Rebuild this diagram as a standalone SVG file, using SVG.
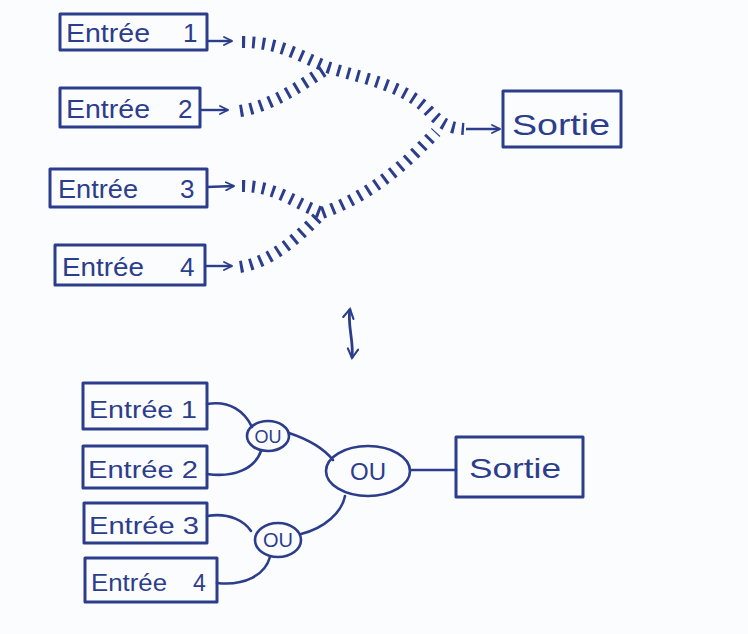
<svg xmlns="http://www.w3.org/2000/svg" width="748" height="634" viewBox="0 0 748 634">
<defs>
<marker id="ah" viewBox="0 0 10 10" refX="9" refY="5" markerWidth="10" markerHeight="10" markerUnits="userSpaceOnUse" orient="auto-start-reverse">
<path d="M1 1 L9 5 L1 9" fill="none" stroke="#2c3d8c" stroke-width="1.8" stroke-linecap="round"/>
</marker>
<marker id="ah2" viewBox="0 0 10 10" refX="8" refY="5" markerWidth="13" markerHeight="13" markerUnits="userSpaceOnUse" orient="auto-start-reverse">
<path d="M1 1 L8 5 L1 9" fill="none" stroke="#2c3d8c" stroke-width="1.6" stroke-linecap="round"/>
</marker>
</defs>
<style>
.box{fill:none;stroke:#2c3d8c;stroke-width:3;stroke-linejoin:round}
.t{font-family:"Liberation Sans","DejaVu Sans",sans-serif;fill:#2c3d8c}
.big{font-size:26px}
.sm{font-size:23px}
.hatch{fill:none;stroke:#2c3d8c;stroke-width:12;stroke-dasharray:3 7}
.arr{fill:none;stroke:#2c3d8c;stroke-width:2.4;marker-end:url(#ah)}
.wire{fill:none;stroke:#2c3d8c;stroke-width:2.6;stroke-linecap:round}
.ou{fill:none;stroke:#2c3d8c;stroke-width:2.6}
</style>
<rect width="748" height="634" fill="#fbfcfe"/>

<g id="connectors">
<path class="arr" d="M207 41 L232 41"/>
<path class="arr" d="M200 110 L228 110"/>
<path class="arr" d="M207 187 L234 186"/>
<path class="arr" d="M205 266 L232 266"/>
<path class="arr" d="M466 129 L500 129"/>
<path class="hatch" d="M242 42 C282 42 302 58 330 68 C370 80 405 86 430 112 C440 122 447 128 464 129"/>
<path class="hatch" d="M240 111 C272 106 300 86 328 68"/>
<path class="hatch" d="M242 186 C276 186 296 204 322 213"/>
<path class="hatch" d="M240 267 C272 262 300 236 322 213 C370 196 405 165 436 132"/>
<path fill="none" stroke="#2c3d8c" stroke-width="2.8" marker-start="url(#ah2)" marker-end="url(#ah2)" d="M350 309 C347 325 354 340 352 358"/>
<path class="wire" d="M207 404 C230 400 245 412 252 427"/>
<path class="wire" d="M207 474 C235 478 255 468 261 451"/>
<path class="wire" d="M207 516 C230 512 245 522 251 531"/>
<path class="wire" d="M217 583 C245 586 265 575 270 557"/>
<path class="wire" d="M289 433 C310 440 325 450 333 460"/>
<path class="wire" d="M301 534 C325 528 342 512 345 496"/>
<path class="wire" d="M410 470 L456 470"/>
</g>

<g id="entree1">
<rect class="box" x="60" y="14" width="147" height="36"/>
<text class="t big" x="66" y="42"><tspan textLength="84" lengthAdjust="spacingAndGlyphs">Entrée</tspan><tspan x="183">1</tspan></text>
</g>
<g id="entree2">
<rect class="box" x="60" y="88" width="140" height="39"/>
<text class="t big" x="66" y="118"><tspan textLength="84" lengthAdjust="spacingAndGlyphs">Entrée</tspan><tspan x="178">2</tspan></text>
</g>
<g id="entree3">
<rect class="box" x="50" y="169" width="157" height="38"/>
<text class="t big" x="58" y="198"><tspan textLength="80" lengthAdjust="spacingAndGlyphs">Entrée</tspan><tspan x="180">3</tspan></text>
</g>
<g id="entree4">
<rect class="box" x="55" y="245" width="150" height="40"/>
<text class="t big" x="62" y="276"><tspan textLength="82" lengthAdjust="spacingAndGlyphs">Entrée</tspan><tspan x="180">4</tspan></text>
</g>
<g id="sortie">
<rect class="box" x="503" y="91" width="118" height="56"/>
<text class="t" font-size="30" x="512" y="135" textLength="98" lengthAdjust="spacingAndGlyphs">Sortie</text>
</g>

<g id="entree1b">
<rect class="box" x="83" y="383" width="124" height="46"/>
<text class="t sm" x="89" y="418" textLength="108" lengthAdjust="spacingAndGlyphs">Entrée 1</text>
</g>
<g id="entree2b">
<rect class="box" x="83" y="446" width="124" height="42"/>
<text class="t sm" x="88" y="478" textLength="110" lengthAdjust="spacingAndGlyphs">Entrée 2</text>
</g>
<g id="entree3b">
<rect class="box" x="84" y="503" width="123" height="40"/>
<text class="t sm" x="89" y="534" textLength="110" lengthAdjust="spacingAndGlyphs">Entrée 3</text>
</g>
<g id="entree4b">
<rect class="box" x="85" y="558" width="132" height="44"/>
<text class="t sm" x="91" y="591"><tspan textLength="76" lengthAdjust="spacingAndGlyphs">Entrée</tspan><tspan x="193">4</tspan></text>
</g>
<g id="ou1">
<ellipse class="ou" cx="268" cy="436" rx="21" ry="15"/>
<text class="t" font-size="18" x="268" y="443" text-anchor="middle">OU</text>
</g>
<g id="ou2">
<ellipse class="ou" cx="278" cy="540" rx="23" ry="17"/>
<text class="t" font-size="20" x="278" y="547" text-anchor="middle">OU</text>
</g>
<g id="ou3">
<ellipse class="ou" cx="368" cy="471" rx="42" ry="25"/>
<text class="t" font-size="24" x="368" y="480" text-anchor="middle">OU</text>
</g>
<g id="sortieb">
<rect class="box" x="456" y="437" width="127" height="60"/>
<text class="t" font-size="28" x="469" y="478" textLength="92" lengthAdjust="spacingAndGlyphs">Sortie</text>
</g>
</svg>
